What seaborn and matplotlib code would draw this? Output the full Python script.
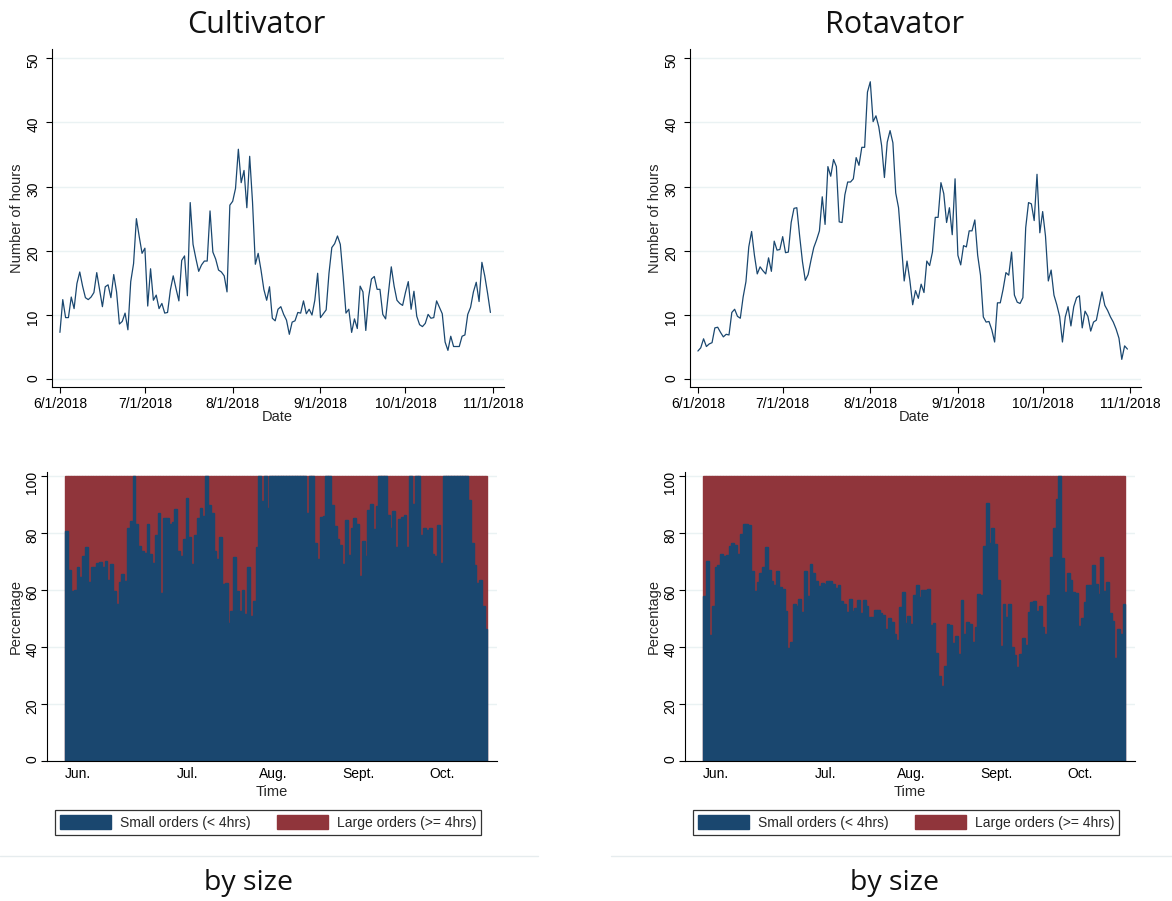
import matplotlib
matplotlib.use("Agg")
import matplotlib.pyplot as plt
from matplotlib.lines import Line2D
from matplotlib.patches import Patch
import numpy as np
import pandas as pd
import seaborn as sns

W, H, DPI = 1172, 901, 100
NAVY = "#1a476f"
MAROON = "#90353b"
GRID = "#eaf2f3"

# daily hours, 6/1/2018 .. 10/31/2018
cultivator_hours = [
    7.3, 12.4, 9.6, 9.6, 12.8, 11.0, 14.9, 16.7, 14.5, 12.7,
    12.4, 12.8, 13.5, 16.6, 13.9, 11.3, 14.4, 14.7, 12.7, 16.3,
    13.6, 8.6, 9.0, 10.3, 7.7, 15.2, 18.0, 25.0, 22.2, 19.6,
    20.4, 11.4, 17.2, 12.3, 13.1, 11.0, 11.8, 10.3, 10.4, 13.9,
    16.1, 14.1, 12.2, 18.5, 19.2, 13.0, 27.5, 21.0, 18.8, 16.8,
    17.8, 18.4, 18.4, 26.2, 19.8, 18.7, 17.0, 16.7, 16.1, 13.6,
    27.1, 27.7, 29.7, 35.8, 30.6, 32.5, 26.7, 34.7, 27.6, 17.9,
    19.6, 17.0, 14.0, 12.3, 14.4, 9.5, 9.1, 10.9, 11.3, 10.1,
    9.2, 7.0, 8.9, 9.1, 10.4, 10.3, 12.2, 10.2, 10.9, 10.0,
    12.3, 16.5, 9.6, 10.2, 10.8, 16.5, 20.5, 21.1, 22.3, 21.0,
    16.0, 10.3, 10.9, 7.3, 9.4, 7.9, 14.5, 13.6, 7.6, 12.8,
    15.6, 16.0, 14.0, 14.0, 10.1, 9.4, 13.5, 17.5, 14.5, 12.3,
    11.8, 11.5, 13.5, 15.2, 10.9, 13.7, 9.8, 8.5, 8.2, 8.7,
    10.1, 9.5, 9.6, 12.2, 11.2, 10.2, 5.8, 4.5, 6.7, 5.1,
    5.1, 5.1, 6.7, 6.9, 10.1, 11.2, 13.6, 15.1, 12.1, 18.2,
    16.1, 13.4, 10.4,
]
rotavator_hours = [
    4.4, 4.9, 6.3, 5.1, 5.5, 5.7, 8.0, 8.1, 7.3, 6.6,
    7.0, 6.9, 10.4, 10.9, 9.8, 9.5, 12.8, 15.2, 20.6, 23.0,
    19.3, 16.4, 17.5, 16.9, 16.4, 18.9, 16.8, 21.5, 20.1, 20.2,
    22.2, 19.7, 19.8, 24.4, 26.6, 26.7, 22.3, 18.3, 15.4, 16.3,
    18.5, 20.5, 21.7, 23.1, 28.4, 24.1, 33.1, 31.6, 34.2, 33.1,
    24.5, 24.4, 28.7, 30.7, 30.7, 31.2, 34.5, 33.3, 36.1, 36.1,
    44.7, 46.3, 40.1, 41.0, 39.3, 36.4, 31.4, 36.9, 38.7, 36.8,
    29.0, 26.7, 21.1, 15.3, 18.4, 15.4, 11.6, 13.8, 12.6, 14.8,
    13.5, 18.4, 17.7, 19.8, 25.2, 25.2, 30.6, 28.9, 24.4, 26.7,
    22.5, 31.2, 19.3, 17.8, 20.8, 20.6, 23.1, 23.1, 24.8, 19.3,
    16.2, 9.7, 8.9, 9.0, 7.7, 5.8, 11.9, 11.9, 14.0, 16.6,
    16.2, 19.8, 13.1, 12.0, 11.8, 12.7, 23.6, 27.5, 27.3, 24.7,
    31.9, 22.8, 26.1, 22.3, 15.3, 17.0, 13.1, 11.6, 9.8, 5.8,
    9.7, 11.3, 8.3, 11.3, 12.7, 13.0, 8.0, 10.6, 9.8, 7.5,
    8.9, 9.2, 11.4, 13.6, 11.5, 10.7, 9.7, 8.9, 7.8, 6.4,
    3.1, 5.2, 4.7,
]

# share of small orders (< 4hrs) per day, in percent
cultivator_small_pct = [
    80.8, 67.2, 59.6, 60.0, 68.0, 64.5, 72.1, 75.3, 62.7, 68.3,
    68.1, 69.7, 69.8, 68.1, 70.4, 63.4, 69.3, 59.6, 55.2, 62.7,
    65.8, 63.1, 82.0, 84.4, 100, 83.2, 75.6, 73.8, 73.0, 83.1,
    72.8, 69.5, 79.4, 87.2, 59.0, 85.2, 85.2, 83.2, 83.8, 88.4,
    73.6, 72.1, 77.9, 92.4, 78.5, 69.2, 79.2, 85.4, 88.9, 86.0,
    100, 89.9, 87.0, 73.6, 70.9, 78.5, 62.2, 62.5, 48.3, 52.6,
    71.5, 59.6, 52.6, 60.2, 51.7, 68.3, 50.9, 56.1, 75.0, 100,
    91.3, 100, 88.7, 100, 100, 100, 100, 100, 100, 100,
    100, 100, 100, 100, 100, 100, 87.0, 100, 100, 76.7,
    70.9, 85.8, 86.1, 100, 100, 89.9, 82.5, 77.9, 75.7, 69.1,
    84.6, 72.2, 81.7, 85.2, 83.1, 65.1, 77.4, 72.1, 88.1, 90.2,
    81.5, 89.5, 100, 100, 100, 86.4, 81.7, 87.8, 75.3, 84.9,
    85.6, 86.4, 75.3, 100, 90.2, 100, 100, 79.2, 81.7, 81.1,
    81.7, 72.8, 72.1, 82.9, 69.5, 100, 100, 100, 100, 100,
    100, 100, 100, 100, 91.8, 76.7, 68.7, 62.5, 63.4, 54.4,
    46.4,
]
rotavator_small_pct = [
    57.9, 70.3, 44.2, 54.4, 68.3, 68.9, 72.8, 72.1, 72.4, 75.6,
    76.7, 75.9, 72.8, 79.7, 83.1, 83.1, 82.8, 66.6, 59.6, 62.7,
    66.2, 68.0, 75.0, 67.2, 63.1, 61.9, 66.6, 61.0, 60.5, 52.6,
    39.8, 41.9, 55.2, 54.6, 57.0, 52.4, 66.8, 57.9, 69.3, 66.2,
    63.1, 61.6, 62.5, 62.2, 63.1, 63.1, 62.3, 60.8, 61.9, 56.1,
    55.3, 52.4, 56.9, 52.6, 53.8, 56.5, 52.0, 56.7, 54.4, 50.6,
    50.6, 53.0, 53.0, 52.0, 51.2, 46.4, 50.1, 48.9, 44.7, 42.4,
    54.0, 59.3, 48.5, 50.9, 48.0, 58.4, 61.7, 57.5, 60.2, 60.0,
    60.5, 47.7, 48.3, 38.1, 29.9, 26.4, 33.4, 48.0, 47.6, 41.6,
    43.9, 37.7, 56.5, 44.5, 48.8, 48.2, 41.9, 47.0, 58.8, 58.4,
    75.6, 90.7, 76.7, 82.0, 76.3, 63.7, 40.4, 55.2, 50.5, 55.3,
    40.0, 37.3, 33.1, 37.7, 43.1, 40.7, 52.4, 55.8, 56.3, 52.6,
    54.4, 47.0, 44.7, 58.2, 71.6, 82.0, 92.0, 100, 71.2, 59.3,
    66.2, 63.4, 59.3, 59.0, 47.4, 50.1, 55.9, 61.9, 61.9, 68.9,
    62.3, 58.8, 71.8, 59.6, 62.7, 52.0, 49.1, 36.3, 46.2, 44.7,
    55.2,
]

date_ticks = ["2018-06-01", "2018-07-01", "2018-08-01", "2018-09-01", "2018-10-01", "2018-11-01"]
date_tick_labels = ["6/1/2018", "7/1/2018", "8/1/2018", "9/1/2018", "10/1/2018", "11/1/2018"]
month_labels = ["Jun.", "Jul.", "Aug.", "Sept.", "Oct."]
month_label_pos = [3.8, 43.2, 73.8, 104.3, 134.1]
legend_labels = ["Small orders (< 4hrs)", "Large orders (>= 4hrs)"]
titles = ["Cultivator", "Rotavator"]

sns.set_theme(style="white")
plt.rcParams["font.family"] = ["Liberation Sans", "DejaVu Sans"]

fig = plt.figure(figsize=(W / DPI, H / DPI), dpi=DPI)
fig.patch.set_facecolor("white")


def add_axes_px(left, top, right, bottom):
    return fig.add_axes([left / W, 1 - bottom / H, (right - left) / W, (bottom - top) / H])


def style_axes(ax, yticks, ypad):
    for side in ("top", "right"):
        ax.spines[side].set_visible(False)
    for side in ("left", "bottom"):
        ax.spines[side].set_color("black")
        ax.spines[side].set_linewidth(0.8)
    ax.set_yticks(yticks)
    ax.grid(axis="y", color=GRID, linewidth=1.0)
    ax.grid(axis="x", visible=False)
    ax.set_axisbelow(True)
    ax.tick_params(axis="y", labelrotation=90, length=4, width=0.8, pad=ypad,
                   labelsize=10, colors="black", left=True)


def line_panel(ax, hours):
    dates = pd.date_range("2018-06-01", periods=len(hours), freq="D")
    sns.lineplot(x=dates, y=hours, color=NAVY, linewidth=0.9, ax=ax)
    start = pd.Timestamp("2018-06-01")
    ax.set_xlim(start - pd.Timedelta(days=2.8), start + pd.Timedelta(days=156.8))
    ax.set_ylim(-1.2, 51.4)
    style_axes(ax, [0, 10, 20, 30, 40, 50], 4.5)
    ax.set_xticks(pd.to_datetime(date_ticks))
    ax.set_xticklabels(date_tick_labels)
    ax.tick_params(axis="x", length=4, width=0.8, pad=3, labelsize=10, colors="black", bottom=True)
    ax.set_xlabel("Date", fontsize=10.5)
    ax.set_ylabel("Number of hours", fontsize=10.5)
    ax.xaxis.set_label_coords(0.498, -0.068)
    ax.yaxis.set_label_coords(-0.062, 0.5)


def bar_panel(ax, small_pct):
    n = len(small_pct)
    idx = np.arange(n)
    large_pct = 100 - np.asarray(small_pct, dtype=float)
    total = np.asarray(small_pct) + large_pct
    sns.barplot(x=idx, y=total, color=MAROON, saturation=1, width=1.0,
                errorbar=None, linewidth=1.0, edgecolor=MAROON, ax=ax)
    sns.barplot(x=idx, y=small_pct, color=NAVY, saturation=1, width=1.0,
                errorbar=None, linewidth=1.0, edgecolor=NAVY, ax=ax)
    ax.set_xlim(-7.1, n + 2.9)
    ax.set_ylim(0, 101.5)
    style_axes(ax, [0, 20, 40, 60, 80, 100], 1.5)
    ax.set_xticks(month_label_pos)
    ax.set_xticklabels(month_labels)
    ax.tick_params(axis="x", length=0, pad=4, labelsize=10, colors="black")
    ax.set_xlabel("Time", fontsize=10.5)
    ax.set_ylabel("Percentage", fontsize=10.5)
    ax.xaxis.set_label_coords(0.5, -0.082)
    ax.yaxis.set_label_coords(-0.053, 0.5)


panels = [
    (52, 504, 47, 497, cultivator_hours, cultivator_small_pct, 256, 248),
    (690, 1141, 685, 1135, rotavator_hours, rotavator_small_pct, 894, 894),
]

for k, (tl, tr, bl, br, hours, pct, title_x, foot_x) in enumerate(panels):
    ax_top = add_axes_px(tl, 49, tr, 387)
    line_panel(ax_top, hours)
    ax_bot = add_axes_px(bl, 472, br, 761)
    bar_panel(ax_bot, pct)

    fig.text(title_x / W, 1 - 33 / H, titles[k], ha="center", va="baseline",
             fontsize=22, family=["Open Sans", "DejaVu Sans"], color="#111111")
    fig.text(foot_x / W, 1 - 890 / H, "by size", ha="center", va="baseline",
             fontsize=20.5, family=["Open Sans", "DejaVu Sans"], color="#111111")

    handles = [Patch(facecolor=NAVY, edgecolor=NAVY), Patch(facecolor=MAROON, edgecolor=MAROON)]
    lx0 = bl + 8
    leg = fig.legend(handles, legend_labels, ncol=2, loc="center",
                     bbox_to_anchor=(lx0 / W, 1 - 836 / H, 426 / W, 27 / H),
                     mode="expand", frameon=True, fancybox=False, edgecolor="black",
                     handlelength=3.7, handleheight=1.1, fontsize=10, borderpad=0.35,
                     columnspacing=1.5, handletextpad=0.6, borderaxespad=0)
    leg.get_frame().set_linewidth(0.9)

# separators above the notes
fig.add_artist(Line2D([0, 538 / W], [1 - 855.5 / H] * 2, color="#e6ecee", linewidth=1))
fig.add_artist(Line2D([611 / W, 1], [1 - 855.5 / H] * 2, color="#e6ecee", linewidth=1))

fig.savefig("out.png", dpi=DPI, facecolor="white")
